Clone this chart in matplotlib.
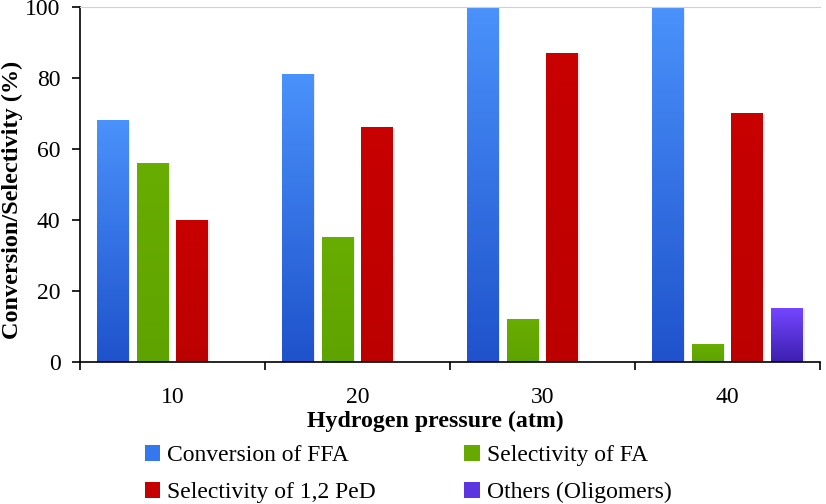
import numpy as np
import matplotlib
matplotlib.use('Agg')
import matplotlib.pyplot as plt
from matplotlib.colors import LinearSegmentedColormap
from matplotlib.patches import Patch

plt.rcParams['font.family'] = ['Liberation Serif', 'DejaVu Serif']

# data
pressures = ['10', '20', '30', '40']
conversion_ffa = [68, 81, 100, 100]
selectivity_fa = [56, 35, 12, 5]
selectivity_ped = [40, 66, 87, 70]
others_oligomers = [0, 0, 0, 15]

series_names = ['Conversion of FFA', 'Selectivity of FA',
                'Selectivity of 1,2 PeD', 'Others (Oligomers)']
series_values = [conversion_ffa, selectivity_fa, selectivity_ped, others_oligomers]
# (top colour, bottom colour) for each series
series_colors = [('#4a92fb', '#1f52cc'),
                 ('#68ad00', '#5fa300'),
                 ('#c80000', '#bc0000'),
                 ('#7446ff', '#3d1fb0')]
legend_colors = ['#3578ee', '#66aa00', '#c40000', '#5a35e0']

fig = plt.figure(figsize=(8.26, 5.04), dpi=100)
ax = fig.add_axes([80 / 826, 1 - 362 / 504, 740 / 826, 355 / 504])

width = 0.172
step = 0.215
x = np.arange(len(pressures))
for k, (vals, (c_top, c_bot)) in enumerate(zip(series_values, series_colors)):
    offs = (k - 1.5) * step
    cmap = LinearSegmentedColormap.from_list('g%d' % k, [c_bot, c_top])
    grad = np.linspace(1, 0, 64).reshape(-1, 1)
    bars = ax.bar(x + offs, vals, width, color='none', edgecolor='none')
    for b, v in zip(bars, vals):
        if v <= 0:
            continue
        x0 = b.get_x()
        # soft shadow to the right
        ax.add_patch(plt.Rectangle((x0 + 0.008, 0), b.get_width(), v,
                                   color='#d8dde4', alpha=0.6, lw=0, zorder=1))
        ax.imshow(grad, extent=[x0, x0 + b.get_width(), 0, v], aspect='auto',
                  cmap=cmap, vmin=0, vmax=1, zorder=2)

ax.set_xlim(-0.5, 3.5)
ax.set_ylim(0, 100)
ax.set_yticks([0, 20, 40, 60, 80, 100])
ax.tick_params(axis='y', labelsize=17, length=6, width=1.2, pad=8, direction='out')

ax.set_xticks(np.arange(-0.5, 4, 1))
ax.set_xticklabels([])
ax.tick_params(axis='x', which='major', length=6, width=1.2, direction='out')
ax.set_xticks(x, minor=True)
ax.set_xticklabels(pressures, minor=True)
ax.tick_params(axis='x', which='minor', length=0, labelsize=17, pad=18)

ax.spines['right'].set_visible(False)
ax.spines['top'].set_color('#d0d0d0')
ax.spines['top'].set_linewidth(0.8)
ax.spines['left'].set_linewidth(1.2)
ax.spines['bottom'].set_linewidth(1.2)

fig.text(12 / 826, 1 - 200 / 504, 'Conversion/Selectivity (%)', fontsize=17.5,
         fontweight='bold', rotation=90, ha='center', va='center')
fig.text(435 / 826, 1 - 421 / 504, 'Hydrogen pressure (atm)', fontsize=17.2,
         fontweight='bold', ha='center', va='center')

order = [0, 2, 1, 3]
handles = [Patch(facecolor=legend_colors[i], edgecolor='none') for i in order]
fig.legend(handles, [series_names[i] for i in order], ncol=2, loc='center',
           bbox_to_anchor=(408 / 826, 1 - 474 / 504), frameon=False,
           fontsize=17, handlelength=0.65, handleheight=0.65, handletextpad=0.3,
           columnspacing=3.75, labelspacing=0.68, borderpad=0)

fig.savefig('out.png', dpi=100)
